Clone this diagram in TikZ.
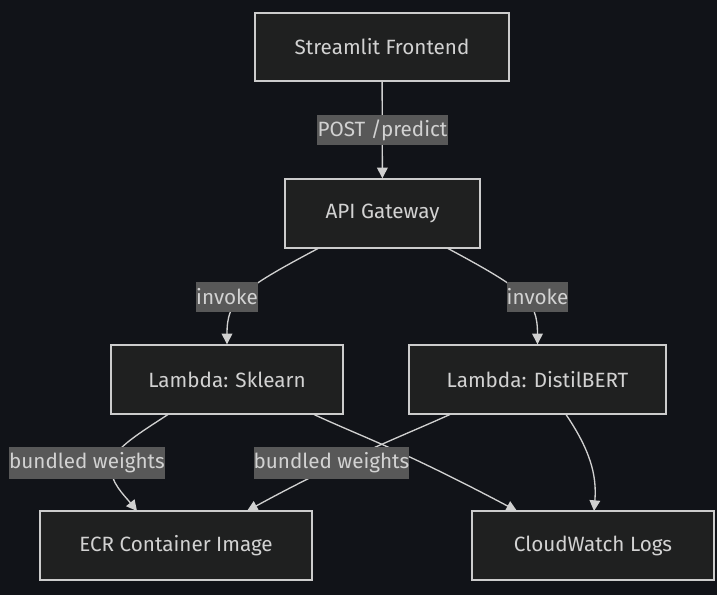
\documentclass[tikz,border=0pt]{standalone}
\usepackage{fontspec}
\setmainfont{Fira Sans}
\usetikzlibrary{arrows.meta}
\definecolor{bgc}{HTML}{111318}
\definecolor{nodefill}{HTML}{1F2020}
\definecolor{nodeline}{HTML}{CCCCCC}
\definecolor{txt}{HTML}{D2D2D2}
\definecolor{lblbg}{HTML}{585858}
\definecolor{edgec}{HTML}{D0D0D0}
\begin{document}
\begin{tikzpicture}[x=0.75pt,y=-0.75pt,
  box/.style={draw=nodeline,fill=nodefill,line width=1.05pt,text=txt,font=\fontsize{15.5}{18}\selectfont,inner sep=0pt,anchor=center},
  lbl/.style={fill=lblbg,text=txt,font=\fontsize{15.5}{18}\selectfont,inner sep=0pt,anchor=center},
  edge/.style={draw=edgec,line width=1pt,-{Triangle[length=8pt,width=8pt]}}]
\fill[bgc] (0,0) rectangle (717,595);
\useasboundingbox (0,0) rectangle (717,595);
% nodes
\node[box,minimum width=254*0.75pt,minimum height=68*0.75pt] (fe) at (382,47) {Streamlit Frontend};
\node[box,minimum width=195*0.75pt,minimum height=69*0.75pt] (api) at (382.5,213.5) {API Gateway};
\node[box,minimum width=232*0.75pt,minimum height=69*0.75pt] (skl) at (227,379.5) {Lambda: Sklearn};
\node[box,minimum width=257*0.75pt,minimum height=69*0.75pt] (dbt) at (537.5,379.5) {Lambda: DistilBERT};
\node[box,minimum width=272*0.75pt,minimum height=69*0.75pt] (ecr) at (176,545.5) {ECR Container Image};
\node[box,minimum width=242*0.75pt,minimum height=69*0.75pt] (cw) at (593,545.5) {CloudWatch Logs};
% anchor coordinates
\coordinate (s1) at (318,248.5);
\coordinate (s2) at (448,248.5);
\coordinate (sk1) at (168,414.5);
\coordinate (sk2) at (314,414.5);
\coordinate (db1) at (450,414.5);
\coordinate (db2) at (566,414.5);
\coordinate (e1) at (137,511);
\coordinate (e2) at (247,511);
\coordinate (c1) at (517,511);
\coordinate (c2) at (594,511);
% edges
\draw[edge] (fe) -- (api);
\draw[edge] (s1) .. controls (240,290) and (227,300) .. (skl.north);
\draw[edge] (s2) .. controls (525,290) and (537.5,300) .. (dbt.north);
\draw[edge] (sk1) .. controls (135,436) and (112,450) .. (111,466) .. controls (110,482) and (124,495) .. (e1);
\draw[edge] (sk2) .. controls (360,436) and (400,449) .. (c1);
\draw[edge] (db1) .. controls (400,437) and (340,460) .. (e2);
\draw[edge] (db2) .. controls (590,450) and (597,475) .. (c2);
% labels
\node[lbl,minimum width=131*0.75pt,minimum height=30*0.75pt] (l1) at (382.5,130) {POST /predict};
\node[lbl,minimum width=62*0.75pt,minimum height=30*0.75pt] (l2) at (227,297) {invoke};
\node[lbl,minimum width=61*0.75pt,minimum height=30*0.75pt] (l3) at (537.5,297) {invoke};
\node[lbl,minimum width=152*0.75pt,minimum height=32*0.75pt] (l4) at (87,463) {bundled weights};
\node[lbl,minimum width=153*0.75pt,minimum height=32*0.75pt] (l5) at (331.5,463) {bundled weights};
\end{tikzpicture}
\end{document}
